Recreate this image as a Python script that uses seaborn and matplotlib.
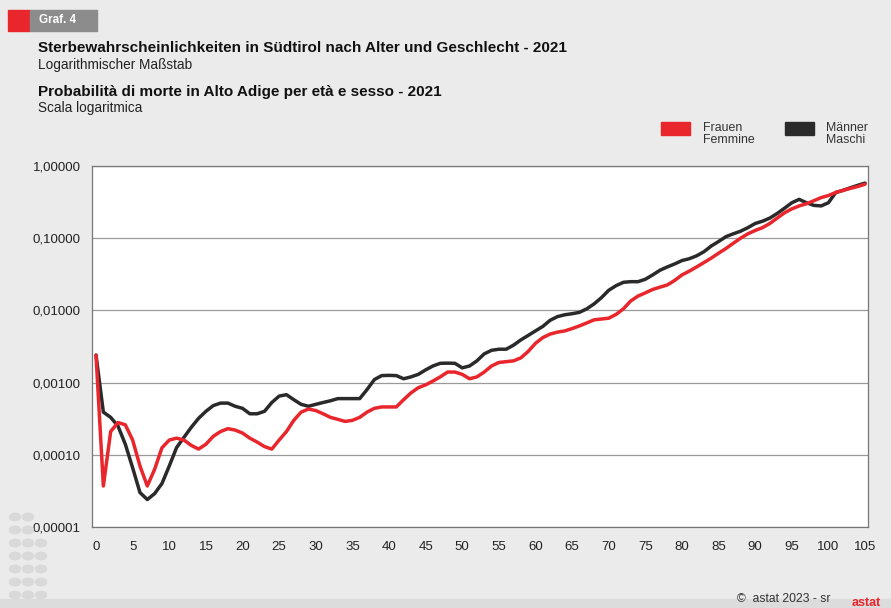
import matplotlib
matplotlib.use('Agg')
import matplotlib.pyplot as plt
import matplotlib.patches as mpatches
from matplotlib.ticker import FixedLocator, FixedFormatter
import seaborn as sns
import pandas as pd

# Alter 0..105
alter = list(range(0, 106))

frauen = [
    0.0024, 0.000037, 0.00021, 0.00028, 0.00026, 0.00016, 0.00007, 0.000037, 0.000063, 0.000125,
    0.00016, 0.00017, 0.00016, 0.000135, 0.00012, 0.00014, 0.00018, 0.00021, 0.00023, 0.00022,
    0.0002, 0.00017, 0.00015, 0.00013, 0.00012, 0.00016, 0.00021, 0.0003, 0.00039, 0.00043,
    0.00041, 0.00037, 0.00033, 0.00031, 0.00029, 0.0003, 0.00033, 0.00039, 0.00044, 0.00046,
    0.00046, 0.00046, 0.00058, 0.00072, 0.00085, 0.00093, 0.00105, 0.0012, 0.0014, 0.0014,
    0.0013, 0.00113, 0.0012, 0.0014, 0.0017, 0.0019, 0.00195, 0.002, 0.0022, 0.0027,
    0.0035, 0.0042, 0.0047, 0.005, 0.0052, 0.0056, 0.0061, 0.0067, 0.0074, 0.0076,
    0.0078, 0.0088, 0.0105, 0.0135, 0.0158, 0.0175, 0.0195, 0.021, 0.0225, 0.026,
    0.031, 0.035, 0.04, 0.046, 0.053, 0.062, 0.072, 0.085, 0.1, 0.115,
    0.128, 0.14, 0.16, 0.19, 0.225, 0.255, 0.28, 0.30, 0.33, 0.365,
    0.39, 0.43, 0.46, 0.49, 0.52, 0.56,
]

maenner = [
    0.0024, 0.00039, 0.00033, 0.00025, 0.00014, 0.000066, 0.00003, 0.000024, 0.000029, 0.00004,
    0.00007, 0.000126, 0.000174, 0.00024, 0.00032, 0.0004, 0.00048, 0.00052, 0.00052, 0.00047,
    0.00044, 0.00037, 0.00037, 0.0004, 0.00053, 0.00065, 0.00068, 0.00058, 0.0005, 0.00047,
    0.0005, 0.00053, 0.00056, 0.0006, 0.0006, 0.0006, 0.0006, 0.0008, 0.0011, 0.00125,
    0.00126, 0.00125, 0.00113, 0.0012, 0.0013, 0.0015, 0.0017, 0.00185, 0.00186, 0.00185,
    0.0016, 0.0017, 0.002, 0.0025, 0.0028, 0.0029, 0.0029, 0.0033, 0.0039, 0.0045,
    0.0052, 0.006, 0.0073, 0.0082, 0.0087, 0.009, 0.0094, 0.0105, 0.0123, 0.015,
    0.019, 0.022, 0.0245, 0.025, 0.025, 0.027, 0.031, 0.036, 0.04, 0.044,
    0.049, 0.052, 0.057, 0.065, 0.078, 0.09, 0.105, 0.115, 0.125, 0.14,
    0.16, 0.172, 0.19, 0.22, 0.26, 0.31, 0.345, 0.31, 0.285, 0.28,
    0.31, 0.43, 0.46, 0.5, 0.54, 0.58,
]

y_ticks = [0.00001, 0.0001, 0.001, 0.01, 0.1, 1.0]
y_labels = ['0,00001', '0,00010', '0,00100', '0,01000', '0,10000', '1,00000']
x_ticks = list(range(0, 106, 5))

ROT = '#e8262c'
SCHWARZ = '#2a2a2a'
BG = '#ebebeb'

df = pd.DataFrame({
    'alter': alter * 2,
    'wert': frauen + maenner,
    'geschlecht': ['Frauen'] * len(alter) + ['Männer'] * len(alter),
})

sns.set_style('white')
plt.rcParams['font.family'] = ['Liberation Sans', 'DejaVu Sans']

fig = plt.figure(figsize=(8.91, 6.08), dpi=100, facecolor=BG)
ax = fig.add_axes([92 / 891, 1 - 527 / 608, (868 - 92) / 891, (527 - 166) / 608])
ax.set_facecolor('white')

sns.lineplot(data=df, x='alter', y='wert', hue='geschlecht',
             palette={'Frauen': ROT, 'Männer': SCHWARZ},
             hue_order=['Männer', 'Frauen'],
             linewidth=2.5, legend=False, ax=ax)

ax.set_yscale('log')
ax.set_ylim(0.00001, 1.0)
ax.set_xlim(-0.55, 105.4)
ax.yaxis.set_major_locator(FixedLocator(y_ticks))
ax.yaxis.set_major_formatter(FixedFormatter(y_labels))
ax.yaxis.set_minor_locator(FixedLocator([]))
ax.set_xticks(x_ticks)
ax.set_xlabel('')
ax.set_ylabel('')
ax.tick_params(axis='y', length=0, labelsize=9.5, pad=8, colors='#222222')
ax.tick_params(axis='x', length=5, width=0.8, color='#777777', direction='out',
               labelsize=9.5, pad=5, labelcolor='#222222')
ax.grid(axis='y', color='#999999', linewidth=0.9)
ax.set_axisbelow(True)
for s in ax.spines.values():
    s.set_color('#777777')
    s.set_linewidth(0.9)

# Kopfzeile
fig.patches.append(mpatches.Rectangle((8 / 891, 1 - 31 / 608), 22 / 891, 21 / 608,
                                      transform=fig.transFigure, color='#e8262c'))
fig.patches.append(mpatches.Rectangle((30 / 891, 1 - 31 / 608), 67 / 891, 21 / 608,
                                      transform=fig.transFigure, color='#8c8c8c'))
fig.text(39 / 891, 1 - 20 / 608, 'Graf. 4', color='white', fontsize=8.4,
         fontweight='bold', va='center')

fig.text(38 / 891, 1 - 48 / 608,
         'Sterbewahrscheinlichkeiten in Südtirol nach Alter und Geschlecht - 2021',
         fontsize=11, fontweight='bold', va='center', color='#111111')
fig.text(38 / 891, 1 - 65 / 608, 'Logarithmischer Maßstab', fontsize=9.8,
         va='center', color='#222222')
fig.text(38 / 891, 1 - 92 / 608, 'Probabilità di morte in Alto Adige per età e sesso - 2021',
         fontsize=11, fontweight='bold', va='center', color='#111111')
fig.text(38 / 891, 1 - 108 / 608, 'Scala logaritmica', fontsize=9.8,
         va='center', color='#222222')

# Legende
fig.patches.append(mpatches.Rectangle((661 / 891, 1 - 135 / 608), 29 / 891, 13 / 608,
                                      transform=fig.transFigure, color=ROT))
fig.text(703 / 891, 1 - 134 / 608, 'Frauen\nFemmine', fontsize=8.9, va='center',
         color='#333333', linespacing=1.1)
fig.patches.append(mpatches.Rectangle((785 / 891, 1 - 135 / 608), 29 / 891, 13 / 608,
                                      transform=fig.transFigure, color=SCHWARZ))
fig.text(826 / 891, 1 - 134 / 608, 'Männer\nMaschi', fontsize=8.9, va='center',
         color='#333333', linespacing=1.1)

# Fußzeile
fig.patches.append(mpatches.Rectangle((0, 0), 1, 9 / 608, transform=fig.transFigure,
                                      color='#dcdcdc'))
fig.text(737 / 891, 1 - 599 / 608, '©  astat 2023 - sr', fontsize=8.7, va='center',
         color='#333333')
fig.text(866 / 891, 1 - 603 / 608, 'astat', fontsize=9, fontweight='bold',
         color=ROT, ha='center', va='center')

# Punktmuster unten links
for row in range(7):
    for col in range(3):
        if col <= row // 2 + 1 or row > 3:
            fig.patches.append(mpatches.Circle(((15 + col * 13) / 891, 1 - (517 + row * 13) / 608),
                                               5.5 / 891, transform=fig.transFigure,
                                               color='#d9d9d9'))

fig.savefig('out.png', dpi=100, facecolor=BG)
